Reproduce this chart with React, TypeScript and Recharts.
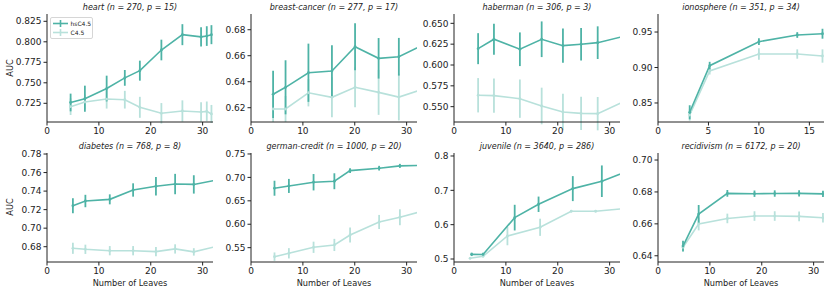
import React from 'react';
import { LineChart, Line, XAxis, YAxis, ErrorBar } from 'recharts';

const DARK = '#4eb3a6';
const LIGHT = '#b8e1db';
const FONT = '"DejaVu Sans", sans-serif';

// heart
const heartLeaves = [4.55, 7.3, 11.5, 15.0, 17.9, 22.05, 26.1, 29.7, 30.8, 31.7];
const heartHs = [0.726, 0.7306, 0.743, 0.756, 0.7648, 0.79, 0.8087, 0.806, 0.807, 0.8087];
const heartHsErr = [0.0108, 0.0159, 0.0157, 0.0096, 0.0122, 0.0126, 0.0128, 0.0118, 0.012, 0.0116];
const heartC45 = [0.7209, 0.7266, 0.7302, 0.7294, 0.7201, 0.7128, 0.7156, 0.7144, 0.7152, 0.712];
const heartC45Err = [0.0102, 0.009, 0.0116, 0.0108, 0.0128, 0.0125, 0.013, 0.012, 0.012, 0.011];

// breast-cancer
const breastLeaves = [4.26, 6.66, 11.07, 15.6, 20.06, 24.6, 28.5, 33];
const breastHs = [0.6303, 0.6357, 0.6469, 0.6482, 0.6669, 0.658, 0.6592, 0.668];
const breastHsErr = [0.0182, 0.0208, 0.0224, 0.0199, 0.018, 0.0156, 0.0145, 0.015];
const breastC45 = [0.619, 0.619, 0.6315, 0.628, 0.6357, 0.6318, 0.6282, 0.6341];
const breastC45Err = [0.01, 0.01, 0.0105, 0.0154, 0.0154, 0.0173, 0.018, 0.015];

// haberman
const habermanLeaves = [4.65, 7.7, 12.7, 16.9, 21.0, 24.5, 27.7, 32.3];
const habermanHs = [0.6196, 0.6309, 0.6189, 0.6309, 0.6232, 0.6249, 0.6268, 0.6337];
const habermanHsErr = [0.0186, 0.0186, 0.0202, 0.0214, 0.0206, 0.0196, 0.0196, 0.02];
const habermanC45 = [0.5637, 0.5633, 0.5596, 0.5508, 0.5436, 0.542, 0.5416, 0.5549];
const habermanC45Err = [0.0206, 0.0206, 0.023, 0.022, 0.022, 0.02, 0.02, 0.02];

// ionosphere
const ionoLeaves = [3.14, 5.12, 10.0, 13.8, 16.3];
const ionoHs = [0.8369, 0.9026, 0.9364, 0.9458, 0.9476];
const ionoHsErr = [0.0099, 0.0054, 0.0047, 0.004, 0.007];
const ionoC45 = [0.8331, 0.8951, 0.919, 0.919, 0.9162];
const ionoC45Err = [0.008, 0.005, 0.0082, 0.0066, 0.0094];

// diabetes
const diabetesLeaves = [4.99, 7.4, 12.1, 16.6, 21.0, 24.7, 28.3, 33];
const diabetesHs = [0.7242, 0.7293, 0.7311, 0.7412, 0.7452, 0.7476, 0.7472, 0.7523];
const diabetesHsErr = [0.0081, 0.0067, 0.0054, 0.0072, 0.0099, 0.011, 0.0099, 0.01];
const diabetesC45 = [0.6783, 0.6772, 0.6757, 0.6757, 0.6747, 0.6776, 0.6744, 0.6808];
const diabetesC45Err = [0.006, 0.005, 0.005, 0.005, 0.005, 0.005, 0.004, 0.005];

// german-credit
const germanLeaves = [4.53, 7.3, 12.06, 16.07, 19.1, 24.7, 28.7, 33];
const germanHs = [0.6769, 0.6818, 0.6897, 0.6918, 0.7145, 0.7197, 0.7246, 0.7255];
const germanHsErr = [0.016, 0.015, 0.0175, 0.017, 0.0053, 0.005, 0.0043, 0.004];
const germanC45 = [0.5308, 0.538, 0.5508, 0.5558, 0.5771, 0.6049, 0.6149, 0.6278];
const germanC45Err = [0.009, 0.011, 0.012, 0.013, 0.016, 0.015, 0.017, 0.015];

// juvenile
const juvenileHsLeaves = [3.4, 5.6, 11.7, 16.3, 22.9, 28.5, 33];
const juvenileHs = [0.5136, 0.5133, 0.6205, 0.6594, 0.705, 0.7265, 0.7529];
const juvenileHsErr = [0.005, 0.005, 0.0374, 0.0224, 0.0364, 0.046, 0.04];
const juvenileC45Leaves = [3.1, 5.6, 10.3, 16.6, 22.6, 27.3, 33];
const juvenileC45 = [0.502, 0.5079, 0.567, 0.5924, 0.6391, 0.6391, 0.6472];
const juvenileC45Err = [0.003, 0.003, 0.027, 0.025, 0.003, 0.003, 0.003];

// recidivism
const recidLeaves = [4.82, 7.84, 13.37, 18.6, 22.5, 27.2, 31.8];
const recidHs = [0.6461, 0.6661, 0.6791, 0.6789, 0.679, 0.6791, 0.6788];
const recidHsErr = [0.0033, 0.0057, 0.0021, 0.002, 0.002, 0.002, 0.002];
const recidC45 = [0.6453, 0.6599, 0.6634, 0.6649, 0.6649, 0.6647, 0.6638];
const recidC45Err = [0.003, 0.004, 0.003, 0.003, 0.003, 0.003, 0.003];

const rows = (xs: number[], ys: number[], errs: number[]) =>
  xs.map((x, i) => ({ x, y: ys[i], err: errs[i] }));

const panels = [
  {
    title: 'heart (n = 270, p = 15)', left: 47, top: 14, h: 108,
    hs: rows(heartLeaves, heartHs, heartHsErr), c45: rows(heartLeaves, heartC45, heartC45Err),
    yDomain: [0.7022, 0.8339], yTicks: [0.725, 0.75, 0.775, 0.8, 0.825], digits: 3,
    xDomain: [0, 32], xTicks: [0, 10, 20, 30],
  },
  {
    title: 'breast-cancer (n = 277, p = 17)', left: 251, top: 14, h: 108,
    hs: rows(breastLeaves, breastHs, breastHsErr), c45: rows(breastLeaves, breastC45, breastC45Err),
    yDomain: [0.609, 0.6921], yTicks: [0.62, 0.64, 0.66, 0.68], digits: 2,
    xDomain: [0, 32], xTicks: [0, 10, 20, 30],
  },
  {
    title: 'haberman (n = 306, p = 3)', left: 454, top: 14, h: 108,
    hs: rows(habermanLeaves, habermanHs, habermanHsErr), c45: rows(habermanLeaves, habermanC45, habermanC45Err),
    yDomain: [0.5316, 0.6612], yTicks: [0.55, 0.575, 0.6, 0.625, 0.65], digits: 3,
    xDomain: [0, 32], xTicks: [0, 10, 20, 30],
  },
  {
    title: 'ionosphere (n = 351, p = 34)', left: 658, top: 14, h: 108,
    hs: rows(ionoLeaves, ionoHs, ionoHsErr), c45: rows(ionoLeaves, ionoC45, ionoC45Err),
    yDomain: [0.8232, 0.9754], yTicks: [0.85, 0.9, 0.95], digits: 2,
    xDomain: [0, 16.45], xTicks: [0, 5, 10, 15],
  },
  {
    title: 'diabetes (n = 768, p = 8)', left: 47, top: 153, h: 109,
    hs: rows(diabetesLeaves, diabetesHs, diabetesHsErr), c45: rows(diabetesLeaves, diabetesC45, diabetesC45Err),
    yDomain: [0.6635, 0.7811], yTicks: [0.68, 0.7, 0.72, 0.74, 0.76, 0.78], digits: 2,
    xDomain: [0, 32], xTicks: [0, 10, 20, 30],
  },
  {
    title: 'german-credit (n = 1000, p = 20)', left: 251, top: 153, h: 109,
    hs: rows(germanLeaves, germanHs, germanHsErr), c45: rows(germanLeaves, germanC45, germanC45Err),
    yDomain: [0.5194, 0.7521], yTicks: [0.55, 0.6, 0.65, 0.7, 0.75], digits: 2,
    xDomain: [0, 32], xTicks: [0, 10, 20, 30],
  },
  {
    title: 'juvenile (n = 3640, p = 286)', left: 454, top: 153, h: 109,
    hs: rows(juvenileHsLeaves, juvenileHs, juvenileHsErr), c45: rows(juvenileC45Leaves, juvenileC45, juvenileC45Err),
    yDomain: [0.4913, 0.8087], yTicks: [0.5, 0.6, 0.7, 0.8], digits: 1,
    xDomain: [0, 32], xTicks: [0, 10, 20, 30],
  },
  {
    title: 'recidivism (n = 6172, p = 20)', left: 658, top: 153, h: 109,
    hs: rows(recidLeaves, recidHs, recidHsErr), c45: rows(recidLeaves, recidC45, recidC45Err),
    yDomain: [0.6361, 0.7044], yTicks: [0.64, 0.66, 0.68, 0.7], digits: 2,
    xDomain: [0, 32], xTicks: [0, 10, 20, 30],
  },
];

const PLOT_W = 166;
const Y_W = 40;
const X_H = 20;
const PAD_TOP = 6;
const PAD_RIGHT = 6;
const INK = '#222';

type Row = { x: number; y: number; err: number };

function Panel({ p }: { p: (typeof panels)[number] }) {
  // error bars are not clipped by recharts, so drop the ones past the x range
  const inRange = (d: Row[]) => d.map((r) => ({ ...r, err: r.x > p.xDomain[1] ? 0 : r.err }));
  const series = [
    { key: 'c45', data: inRange(p.c45), color: LIGHT },
    { key: 'hs', data: inRange(p.hs), color: DARK },
  ];
  return (
    <div style={{ position: 'absolute', left: p.left - Y_W, top: p.top - PAD_TOP }}>
      <LineChart
        width={Y_W + PLOT_W + PAD_RIGHT}
        height={PAD_TOP + p.h + X_H}
        margin={{ top: PAD_TOP, right: PAD_RIGHT, left: 0, bottom: 0 }}
        style={{ fontFamily: FONT }}
      >
        <XAxis
          type="number"
          dataKey="x"
          domain={p.xDomain}
          ticks={p.xTicks}
          interval={0}
          allowDataOverflow
          height={X_H}
          tickSize={3.5}
          tickMargin={2}
          axisLine={{ stroke: INK }}
          tickLine={{ stroke: INK }}
          tick={{ fontSize: 9, fill: INK }}
        />
        <YAxis
          type="number"
          dataKey="y"
          domain={p.yDomain}
          ticks={p.yTicks}
          interval={0}
          allowDataOverflow
          width={Y_W}
          tickSize={3.5}
          tickMargin={2}
          axisLine={{ stroke: INK }}
          tickLine={{ stroke: INK }}
          tick={{ fontSize: 9, fill: INK }}
          tickFormatter={(v: number) => v.toFixed(p.digits)}
        />
        {series.map((s) => (
          <Line
            key={s.key}
            data={s.data}
            dataKey="y"
            type="linear"
            stroke={s.color}
            strokeWidth={1.6}
            dot={{ r: 1.4, fill: s.color, stroke: s.color, strokeWidth: 0 }}
            activeDot={false}
            isAnimationActive={false}
          >
            <ErrorBar dataKey="err" direction="y" width={0} stroke={s.color} strokeWidth={1.8} />
          </Line>
        ))}
      </LineChart>
      <div
        style={{
          position: 'absolute',
          left: Y_W,
          width: PLOT_W,
          top: PAD_TOP - 11,
          textAlign: 'center',
          fontFamily: FONT,
          fontStyle: 'italic',
          fontSize: 8,
          lineHeight: '10px',
          color: INK,
          whiteSpace: 'nowrap',
        }}
      >
        {p.title}
      </div>
    </div>
  );
}

function LegendBox() {
  const items = [
    { label: 'hsC4.5', color: DARK },
    { label: 'C4.5', color: LIGHT },
  ];
  return (
    <div
      style={{
        position: 'absolute',
        left: 50,
        top: 17,
        width: 41,
        height: 20,
        border: '0.8px solid #d6d6d6',
        borderRadius: 2,
        background: 'rgba(255,255,255,0.8)',
        fontFamily: FONT,
        fontSize: 6,
        color: INK,
      }}
    >
      {items.map((it, i) => (
        <div key={it.label} style={{ position: 'absolute', left: 1.5, top: 2 + i * 9.3, height: 7, display: 'flex', alignItems: 'center' }}>
          <svg width={15} height={7} style={{ display: 'block' }}>
            <line x1={0} y1={3.5} x2={15} y2={3.5} stroke={it.color} strokeWidth={1.6} />
            <line x1={7.5} y1={0} x2={7.5} y2={7} stroke={it.color} strokeWidth={1.6} />
          </svg>
          <span style={{ marginLeft: 3, lineHeight: '7px' }}>{it.label}</span>
        </div>
      ))}
    </div>
  );
}

export default function App() {
  return (
    <div style={{ position: 'absolute', left: 0, top: 0, width: 830, height: 293, background: '#fff', overflow: 'hidden' }}>
      {panels.map((p) => (
        <Panel key={p.title} p={p} />
      ))}
      <LegendBox />
      {[68, 207].map((cy) => (
        <div
          key={cy}
          style={{
            position: 'absolute',
            left: 10 - 20,
            top: cy - 5,
            width: 40,
            height: 10,
            lineHeight: '10px',
            textAlign: 'center',
            transform: 'rotate(-90deg)',
            fontFamily: FONT,
            fontSize: 8.2,
            color: INK,
          }}
        >
          AUC
        </div>
      ))}
      {[130, 334, 537, 741].map((cx) => (
        <div
          key={cx}
          style={{
            position: 'absolute',
            left: cx - 50,
            top: 278,
            width: 100,
            lineHeight: '10px',
            textAlign: 'center',
            fontFamily: FONT,
            fontSize: 8.2,
            color: INK,
          }}
        >
          Number of Leaves
        </div>
      ))}
    </div>
  );
}
